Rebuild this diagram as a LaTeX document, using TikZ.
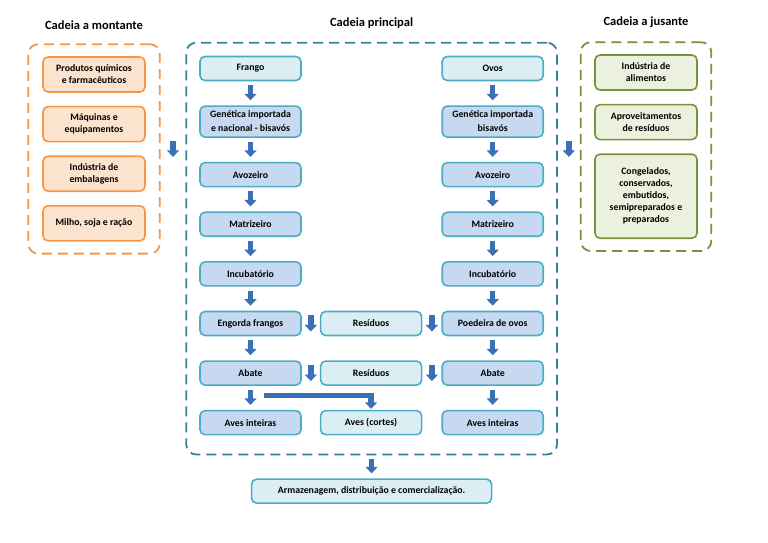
\documentclass[tikz,border=0pt]{standalone}
\usepackage{fontspec}
\setmainfont{Carlito}
\usetikzlibrary{arrows.meta,positioning,fit,calc}
\definecolor{cmorange}{HTML}{F79646}
\definecolor{cmfill}{HTML}{FCE3CD}
\definecolor{cpteal}{HTML}{31849B}
\definecolor{cpedge}{HTML}{4BACC6}
\definecolor{cppale}{HTML}{DBEEF4}
\definecolor{cpblue}{HTML}{C6D9F1}
\definecolor{cjgreen}{HTML}{77933C}
\definecolor{cjfill}{HTML}{EBF1DE}
\definecolor{arrblue}{HTML}{3B6FB6}

\begin{document}
\begin{tikzpicture}[x=1pt,y=1pt,
node distance=24pt and 19pt,
box/.style={rounded corners=5pt,line width=1.6pt,align=center,
font=\fontsize{9.8}{14}\selectfont\bfseries,
minimum width=101pt,minimum height=24pt,inner ysep=5pt},
palebox/.style={box,fill=cppale,draw=cpedge},
bluebox/.style={box,fill=cpblue,draw=cpedge},
montbox/.style={box,fill=cmfill,draw=cmorange,minimum width=102pt,
minimum height=35pt,font=\fontsize{9.8}{12}\selectfont\bfseries},
jusbox/.style={box,fill=cjfill,draw=cjgreen,minimum width=102pt,
minimum height=35pt,font=\fontsize{9.8}{12}\selectfont\bfseries},
cadeia/.style={dash pattern=on 10pt off 6pt,line width=1.8pt,
rounded corners=10pt,inner sep=13pt},
titulo/.style={font=\fontsize{12.5}{14}\selectfont\bfseries},
blockarr/.style={arrblue,line width=5.5pt,-{Triangle[width=12pt,length=6.5pt]},
shorten <=4pt,shorten >=5pt}
]
\useasboundingbox (0,0) rectangle (768,-543);

\node[palebox] (fr) at (250.5,-68.5) {Frango};
\node[bluebox,below=of fr]   (gen1) {Genética importada\\e nacional - bisavós};
\node[bluebox,below=of gen1] (avo1) {Avozeiro};
\node[bluebox,below=of avo1] (mat1) {Matrizeiro};
\node[bluebox,below=of mat1] (inc1) {Incubatório};
\node[bluebox,below=of inc1] (eng)  {Engorda frangos};
\node[bluebox,below=of eng]  (ab1)  {Abate};
\node[bluebox,below=of ab1]  (av1)  {Aves inteiras};
\node[palebox,right=18pt of eng] (res1) {Resíduos};
\node[palebox,right=18pt of ab1] (res2) {Resíduos};
\node[palebox,right=18pt of av1] (cor)  {Aves (cortes)};
\node[bluebox,right=of res1] (poe)  {Poedeira de ovos};
\node[bluebox,right=of res2] (ab2)  {Abate};
\node[bluebox,right=of cor]  (av2)  {Aves inteiras};
\node[bluebox,above=of poe]  (inc2) {Incubatório};
\node[bluebox,above=of inc2] (mat2) {Matrizeiro};
\node[bluebox,above=of mat2] (avo2) {Avozeiro};
\node[bluebox,above=of avo2] (gen2) {Genética importada\\bisavós};
\node[palebox,above=of gen2] (ov)   {Ovos};
\coordinate[below=6pt of av2.south] (pfoot);

\node[montbox] (quim) at (94,-74.5) {Produtos químicos\\e farmacêuticos};
\node[montbox,below=13pt of quim] (maq)   {Máquinas e\\equipamentos};
\node[montbox,below=13pt of maq]  (emb)   {Indústria de\\embalagens};
\node[montbox,below=13pt of emb]  (milho) {Milho, soja e ração};

\node[jusbox] (alim) at (646,-72.5) {Indústria de\\alimentos};
\node[jusbox,below=13pt of alim] (aprov) {Aproveitamentos\\de resíduos};
\node[jusbox,below=13pt of aprov,minimum height=84pt] (cong)
{Congelados,\\conservados,\\embutidos,\\semipreparados e\\preparados};

\node[cadeia,draw=cmorange,fit=(quim)(milho),inner xsep=14pt,inner ysep=12pt] (mont) {};
\node[cadeia,draw=cpteal,fit=(fr)(ov)(av1)(pfoot)] (princ) {};
\node[cadeia,draw=cjgreen,fit=(alim)(cong),inner xsep=13.5pt,inner ysep=12pt] (jus) {};

\node[titulo,above=10pt of mont]  (tmont)  {Cadeia a montante};
\node[titulo,above=10pt of princ] (tprinc) {Cadeia principal};
\node[titulo,above=10pt of jus]   (tjus)   {Cadeia a jusante};

\node[palebox,below=23pt of princ,minimum width=240pt] (arm)
{Armazenagem, distribuição e comercialização.};

\foreach \a/\b in {fr/gen1,gen1/avo1,avo1/mat1,mat1/inc1,inc1/eng,eng/ab1,ab1/av1,
ov/gen2,gen2/avo2,avo2/mat2,mat2/inc2,inc2/poe,poe/ab2,ab2/av2,princ/arm}
\draw[blockarr] (\a) -- (\b);

\coordinate (g1) at ($(eng.east)!.5!(res1.west)$);
\coordinate (g2) at ($(res1.east)!.5!(poe.west)$);
\coordinate (g3) at ($(ab1.east)!.5!(res2.west)$);
\coordinate (g4) at ($(res2.east)!.5!(ab2.west)$);
\coordinate (g5) at ($(mont.east)!.5!(mont.east-|princ.west)$);
\coordinate (g6) at ($(princ.east|-g5)!.5!(jus.west|-g5)$);
\foreach \g in {g1,g2,g3,g4,g5,g6}
\draw[blockarr,shorten <=0pt,shorten >=0pt] ([yshift=8pt]\g) -- ([yshift=-8pt]\g);

\draw[blockarr,shorten <=0pt,shorten >=1pt] ([xshift=13pt,yshift=-9.5pt]ab1.south) -| (cor.north);
\end{tikzpicture}
\end{document}
